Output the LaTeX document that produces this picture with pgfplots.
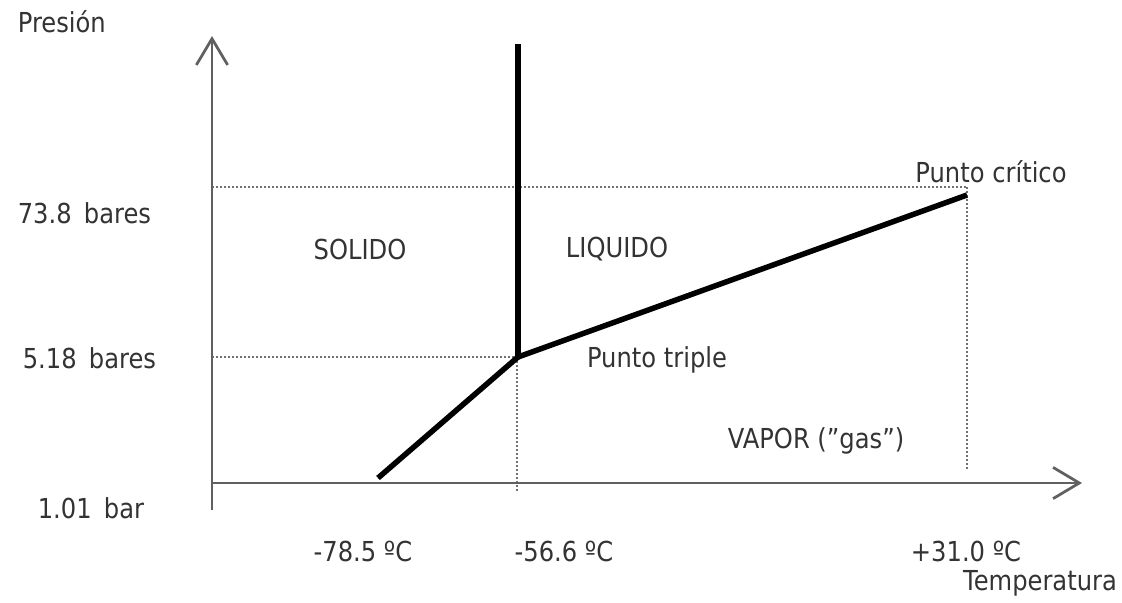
\documentclass[border=0pt]{standalone}
\usepackage{pgfplots}
\pgfplotsset{compat=1.18}
\usepackage{fontspec}
\setmainfont{DejaVu Sans}[FakeStretch=0.88]
\usetikzlibrary{arrows.meta}
\definecolor{axg}{HTML}{606060}
\definecolor{dotg}{HTML}{707070}
\begin{document}
\begin{tikzpicture}
\begin{axis}[
  name=ax,
  scale only axis,
  width=448.8pt, height=240.8pt,
  xmin=0, xmax=1122, ymin=0, ymax=602,
  y dir=reverse,
  hide axis,
  clip=false,
]
% dotted guide lines
\addplot[dotg, densely dotted, line width=0.6pt] coordinates {(212,187) (967,187)};
\addplot[dotg, densely dotted, line width=0.6pt] coordinates {(967,187) (967,470)};
\addplot[dotg, densely dotted, line width=0.6pt] coordinates {(212,357) (517,357)};
\addplot[dotg, densely dotted, line width=0.6pt] coordinates {(517,357) (517,492)};
% axes
\addplot[axg, line width=1.1pt, -{Straight Barb[length=10.5pt, width=12.5pt, line width=1.1pt]}] coordinates {(212,510) (212,36)};
\addplot[axg, line width=1.1pt, -{Straight Barb[length=10.5pt, width=12.5pt, line width=1.1pt]}] coordinates {(212,483) (1082,483)};
% phase boundaries
\addplot[black, line width=2.4pt] coordinates {(518,44) (518,357)};
\addplot[black, line width=2.2pt] coordinates {(378,478) (518,357)};
\addplot[black, line width=2.2pt] coordinates {(518,357) (967,195)};
% labels
\tikzset{lbl/.style={font=\fontsize{11}{13}\selectfont, text=black!80}}
\node[lbl, anchor=west] at (axis cs:9,22) {Presión};
\node[lbl, anchor=west] at (axis cs:9,213) {73.8\, bares};
\node[lbl, anchor=west] at (axis cs:14,358) {5.18\, bares};
\node[lbl, anchor=west] at (axis cs:29,508) {1.01\, bar};
\node[lbl] at (axis cs:363,551) {-78.5 ºC};
\node[lbl] at (axis cs:564,551) {-56.6 ºC};
\node[lbl] at (axis cs:966,551) {+31.0 ºC};
\node[lbl] at (axis cs:1040,583) {Temperatura};
\node[lbl] at (axis cs:360,249) {SOLIDO};
\node[lbl] at (axis cs:617,249) {LIQUIDO};
\node[lbl] at (axis cs:657,360) {Punto triple};
\node[lbl] at (axis cs:816,441) {VAPOR (”gas”)};
\node[lbl] at (axis cs:991,172) {Punto crítico};
\end{axis}
\pgfresetboundingbox
\path[use as bounding box] (ax.south west) rectangle (ax.north east);
\end{tikzpicture}
\end{document}
